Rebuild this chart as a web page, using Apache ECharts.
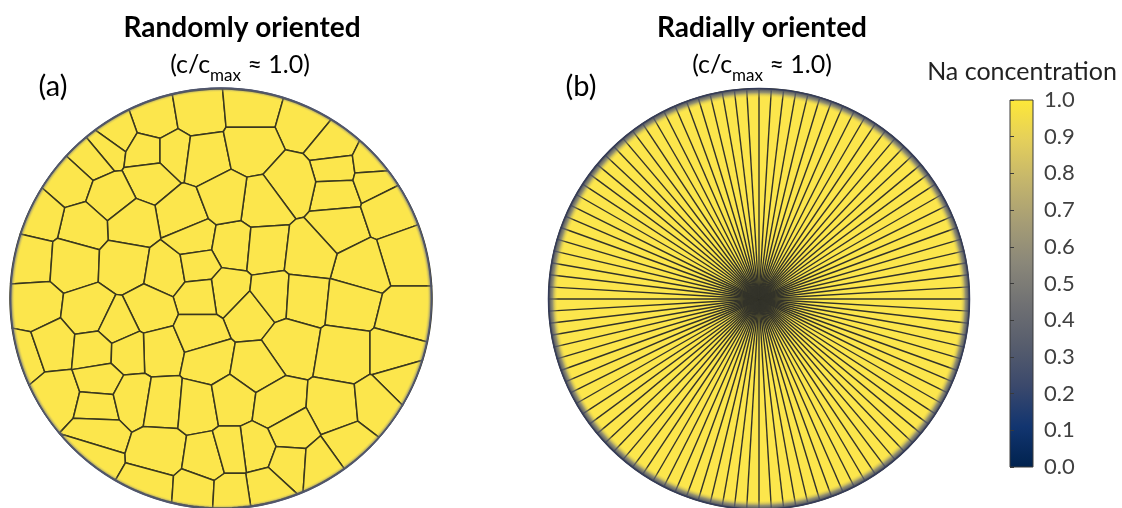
<!DOCTYPE html>
<html>
<head>
<meta charset="utf-8">
<script src="https://cdn.jsdelivr.net/npm/echarts@6/dist/echarts.min.js"></script>
<style>html,body{margin:0;padding:0;background:#fff;}#chart{width:1122px;height:508px;}</style>
</head>
<body>
<div id="chart"></div>
<script>
// ---- data ----
const particleRadius = 211; // particle radius (data units)

// Voronoi grain seeds of the randomly oriented particle (x right, y up, origin at particle centre)
const grainSeeds = [
  [-66,180],[-24,187],[-106,166],[-116,152],[-74,147],[-48,147],[-18,143],[-128,142],
  [31,192],[84,177],[31,153],[112,154],[115,130],[116,107],[119,74],[151,135],[152,120],
  [71,117],[41,95],[167,90],[184,43],[141,30],[-71,123],[-151,117],[-111,103],[-38,84],
  [-89,75],[-138,73],[-181,83],[-191,40],[-148,37],[-96,35],[-53,28],[-28,60],[12,53],
  [44,50],[87,45],[-24,33],[6,7],[-21,3],[29,-15],[51,2],[82,0],[-71,-12],[-61,-52],
  [-21,-35],[-13,-62],[69,-46],[34,-70],[-188,-8],[-131,-15],[-104,-28],[-198,-58],
  [-169,-48],[-126,-52],[-93,-53],[-164,-98],[-121,-83],[-123,-108],[-89,-100],[-58,-105],
  [-124,-135],[-131,-158],[-61,-155],[-71,-192],[-24,-108],[-14,-162],[-26,-195],[131,-5],
  [184,-18],[124,-55],[174,-55],[182,-83],[11,-102],[56,-108],[114,-112],[157,-108],
  [71,-135],[34,-152],[69,-165],[127,-147],[11,-155],[44,-192],[99,-167],[11,-197],[4,100]
];

// radial grain boundaries of the radially oriented particle (degrees)
const radialAngles = [0,3.33,6.67,10,13.33,16.67,20,23.33,26.67,30,33.33,36.67,40,43.33,46.67,50,53.33,56.67,60,63.33,66.67,70,73.33,76.67,80,83.33,86.67,90,93.33,96.67,100,103.33,106.67,110,113.33,116.67,120,123.33,126.67,130,133.33,136.67,140,143.33,146.67,150,153.33,156.67,160,163.33,166.67,170,173.33,176.67,180,183.33,186.67,190,193.33,196.67,200,203.33,206.67,210,213.33,216.67,220,223.33,226.67,230,233.33,236.67,240,243.33,246.67,250,253.33,256.67,260,263.33,266.67,270,273.33,276.67,280,283.33,286.67,290,293.33,296.67,300,303.33,306.67,310,313.33,316.67,320,323.33,326.67,330,333.33,336.67,340,343.33,346.67,350,353.33,356.67];

// colour bar
const colorbarRange = [0, 1];
const colorbarTickLabels = ['0.0','0.1','0.2','0.3','0.4','0.5','0.6','0.7','0.8','0.9','1.0'];
const cividisStops = ['#00224e','#123570','#3b496c','#575d6d','#707173','#8a8779','#a69d75','#c4b56c','#e4cf5b','#fee838'];

// ---- styles ----
const FONT = 'Lato, "Open Sans", "DejaVu Sans", sans-serif';
const FILL = '#fce64c';
const EDGE = '#3a381e';

// ---- Voronoi cells clipped to the particle ----
function clipHalfPlane(poly, nx, ny, c) {
  const out = [];
  for (let k = 0; k < poly.length; k++) {
    const P = poly[k], Q = poly[(k + 1) % poly.length];
    const dp = nx * P[0] + ny * P[1] - c, dq = nx * Q[0] + ny * Q[1] - c;
    if (dp <= 0) out.push(P);
    if ((dp < 0 && dq > 0) || (dp > 0 && dq < 0)) {
      const t = dp / (dp - dq);
      out.push([P[0] + t * (Q[0] - P[0]), P[1] + t * (Q[1] - P[1])]);
    }
  }
  return out;
}
const circlePoly = [];
for (let k = 0; k < 240; k++) {
  const a = k / 240 * Math.PI * 2;
  circlePoly.push([particleRadius * Math.cos(a), particleRadius * Math.sin(a)]);
}
const cellPolys = grainSeeds.map((s, i) => {
  let poly = circlePoly.slice();
  grainSeeds.forEach((t, j) => {
    if (i === j || poly.length === 0) return;
    const nx = t[0] - s[0], ny = t[1] - s[1];
    const c = nx * (s[0] + t[0]) / 2 + ny * (s[1] + t[1]) / 2;
    poly = clipHalfPlane(poly, nx, ny, c);
  });
  return poly;
});

function rimGroup(api, width, edgeColor, midColor, strokeColor) {
  const c = api.coord([0, 0]);
  const r = api.size([particleRadius, 0])[0];
  const inner = (r - width) / r;
  return {
    type: 'group',
    children: [
      {type: 'ring', shape: {cx: c[0], cy: c[1], r: r, r0: r - width},
        style: {fill: new echarts.graphic.RadialGradient(0.5, 0.5, 0.5, [
          {offset: 0, color: 'rgba(252,230,76,0)'},
          {offset: inner, color: 'rgba(252,230,76,0)'},
          {offset: inner + (1 - inner) * 0.55, color: midColor},
          {offset: 1, color: edgeColor}
        ])}},
      {type: 'circle', shape: {cx: c[0], cy: c[1], r: r - 0.5},
        style: {fill: 'none', stroke: strokeColor, lineWidth: 1.5}}
    ]
  };
}

const chart = echarts.init(document.getElementById('chart'));
const hiddenAxis = (g) => ({gridIndex: g, type: 'value', min: -particleRadius, max: particleRadius, show: false});
const centred = {align: 'center', verticalAlign: 'middle', textAlign: 'center', textVerticalAlign: 'middle'};

const option = {
  animation: false,
  backgroundColor: '#ffffff',
  grid: [
    {left: 10, top: 89, width: 422, height: 422},
    {left: 548, top: 90, width: 422, height: 422},
    {left: 1010, top: 100, width: 23, height: 367}
  ],
  xAxis: [hiddenAxis(0), hiddenAxis(1),
    {gridIndex: 2, type: 'value', min: 0, max: 1, show: false}],
  yAxis: [hiddenAxis(0), hiddenAxis(1),
    {gridIndex: 2, type: 'value', min: colorbarRange[0], max: colorbarRange[1], interval: 0.1, position: 'left', z: 10,
      axisLine: {show: false}, splitLine: {show: false}, axisLabel: {show: false},
      axisTick: {show: true, inside: true, length: 4, lineStyle: {color: '#3a3a3a', width: 1}}},
    {gridIndex: 2, type: 'value', min: colorbarRange[0], max: colorbarRange[1], interval: 0.1, position: 'right',
      axisLine: {show: false}, splitLine: {show: false}, axisTick: {show: false},
      axisLabel: {show: true, margin: 11, fontSize: 22, color: '#404040', fontFamily: FONT,
        padding: [6, 0, 0, 0],
        formatter: (v) => colorbarTickLabels[Math.round(v * 10)]}}
  ],
  graphic: [
    {type: 'text', x: 242, y: 28, style: Object.assign({text: 'Randomly oriented', font: 'bold 28px ' + FONT, fill: '#000'}, centred)},
    {type: 'text', x: 240, y: 65, style: Object.assign({text: '(c/c{s|max} ≈ 1.0)', fontSize: 25, fontFamily: FONT, fill: '#000',
      lineHeight: 38, rich: {s: {fontSize: 17, fontFamily: FONT, fill: '#000', verticalAlign: 'bottom', lineHeight: 38}}}, centred)},
    {type: 'text', x: 762, y: 28, style: Object.assign({text: 'Radially oriented', font: 'bold 28px ' + FONT, fill: '#000'}, centred)},
    {type: 'text', x: 762, y: 65, style: Object.assign({text: '(c/c{s|max} ≈ 1.0)', fontSize: 25, fontFamily: FONT, fill: '#000',
      lineHeight: 38, rich: {s: {fontSize: 17, fontFamily: FONT, fill: '#000', verticalAlign: 'bottom', lineHeight: 38}}}, centred)},
    {type: 'text', x: 53, y: 87, style: Object.assign({text: '(a)', font: '29px ' + FONT, fill: '#000'}, centred)},
    {type: 'text', x: 581, y: 87, style: Object.assign({text: '(b)', font: '29px ' + FONT, fill: '#000'}, centred)},
    {type: 'text', x: 1022, y: 72, style: Object.assign({text: 'Na concentration', font: '25px ' + FONT, fill: '#222'}, centred)}
  ],
  series: [
    { // grains of randomly oriented particle
      type: 'custom', xAxisIndex: 0, yAxisIndex: 0, z: 2, data: grainSeeds, encode: {x: 0, y: 1},
      renderItem: (params, api) => {
        const poly = cellPolys[params.dataIndex];
        if (!poly || poly.length < 3) return null;
        return {type: 'polygon', shape: {points: poly.map(p => api.coord(p))},
          style: {fill: FILL, stroke: EDGE, lineWidth: 1.5, lineJoin: 'round'}};
      }
    },
    { // rim of particle a
      type: 'custom', xAxisIndex: 0, yAxisIndex: 0, z: 3, data: [[0, 0]], encode: {x: 0, y: 1},
      renderItem: (params, api) => rimGroup(api, 5, '#474d65', 'rgba(120,124,132,0.45)', '#50566c')
    },
    { // radially oriented particle body
      type: 'custom', xAxisIndex: 1, yAxisIndex: 1, z: 2, data: [[0, 0]], encode: {x: 0, y: 1},
      renderItem: (params, api) => {
        const c = api.coord([0, 0]);
        const r = api.size([particleRadius, 0])[0];
        return {type: 'circle', shape: {cx: c[0], cy: c[1], r: r}, style: {fill: FILL}};
      }
    },
    { // radial grain boundaries
      type: 'custom', xAxisIndex: 1, yAxisIndex: 1, z: 3,
      data: radialAngles.map(a => [0, 0, a]), encode: {x: 0, y: 1},
      renderItem: (params, api) => {
        const a = api.value(2) * Math.PI / 180;
        const p0 = api.coord([0, 0]);
        const p1 = api.coord([particleRadius * Math.sin(a), particleRadius * Math.cos(a)]);
        return {type: 'line', shape: {x1: p0[0], y1: p0[1], x2: p1[0], y2: p1[1]},
          style: {stroke: '#33332a', lineWidth: 1.4}};
      }
    },
    { // rim of particle b
      type: 'custom', xAxisIndex: 1, yAxisIndex: 1, z: 4, data: [[0, 0]], encode: {x: 0, y: 1},
      renderItem: (params, api) => rimGroup(api, 10, '#313857', 'rgba(105,110,125,0.7)', '#353c58')
    },
    { // colour bar
      type: 'custom', xAxisIndex: 2, yAxisIndex: 3, z: 2, data: [[0, 1]], encode: {x: 0, y: 1},
      renderItem: (params, api) => {
        const tl = api.coord([0, colorbarRange[1]]);
        const br = api.coord([1, colorbarRange[0]]);
        const stops = cividisStops.map((c, i) => ({offset: 1 - i / (cividisStops.length - 1), color: c}));
        return {type: 'rect', shape: {x: tl[0], y: tl[1], width: br[0] - tl[0], height: br[1] - tl[1]},
          style: {fill: new echarts.graphic.LinearGradient(0, 0, 0, 1, stops.reverse()), stroke: '#3a3a3a', lineWidth: 1}};
      }
    }
  ]
};
chart.setOption(option);
</script>
</body>
</html>
